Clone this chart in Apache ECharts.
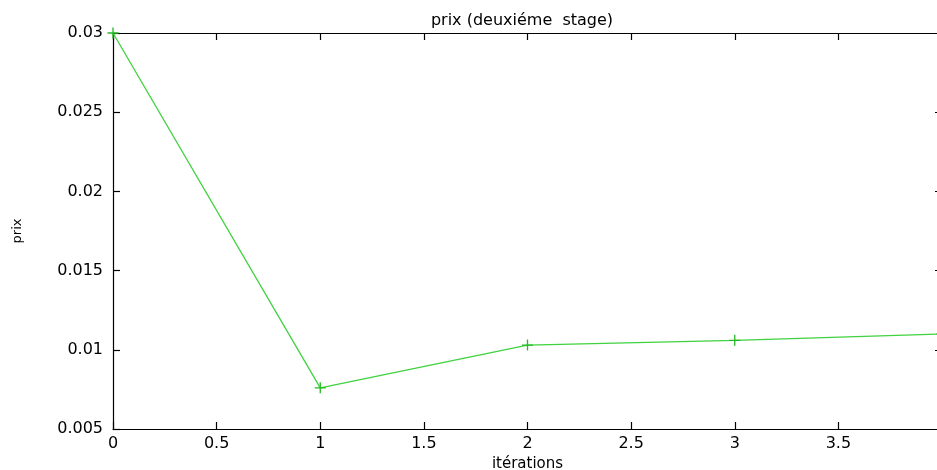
<!DOCTYPE html>
<html>
<head>
<meta charset="utf-8">
<script src="https://cdn.jsdelivr.net/npm/echarts@6/dist/echarts.min.js"></script>
<style>
html,body{margin:0;padding:0;background:#fff;}
#chart{width:937px;height:470px;}
</style>
</head>
<body>
<div id="chart"></div>
<script>
// Data
const iterations = [0, 1, 2, 3, 4];
const prix = [0.0300, 0.0076, 0.0103, 0.0106, 0.0110];
const xTicks = { min: 0, max: 4, interval: 0.5 };
const yTicks = { min: 0.005, max: 0.03, interval: 0.005 };
const titleText = 'prix (deuxiéme  stage)';
const xName = 'itérations';
const yName = 'prix';

const points = iterations.map((x, i) => [x, prix[i]]);
const font = 'DejaVu Sans';
const plusPath = 'path://M4.4,0h1.2v4.4h4.4v1.2h-4.4v4.4h-1.2v-4.4h-4.4v-1.2h4.4z';

function fmt(v) { return String(+v.toFixed(4)); }

const axisCommon = {
  axisLine: { show: true, onZero: false, lineStyle: { color: '#000', width: 1.2 } },
  axisTick: { show: true, inside: true, length: 7, lineStyle: { color: '#000', width: 1.2 } },
  splitLine: { show: false }
};

const chart = echarts.init(document.getElementById('chart'), null, { renderer: 'canvas' });
chart.setOption({
  animation: false,
  backgroundColor: '#ffffff',
  title: {
    text: titleText,
    left: 517, top: 8, textAlign: 'center',
    textStyle: { fontFamily: font, fontSize: 16, fontWeight: 'normal', color: '#000' }
  },
  grid: { left: 113, top: 33, width: 829, height: 396, containLabel: false, outerBoundsMode: 'none' },
  xAxis: [
    Object.assign({
      type: 'value', position: 'bottom',
      min: xTicks.min, max: xTicks.max, interval: xTicks.interval,
      name: xName, nameLocation: 'middle', nameGap: 26,
      nameTextStyle: { fontFamily: font, fontSize: 15, color: '#000' },
      axisLabel: { show: true, margin: 7, fontFamily: font, fontSize: 16, color: '#000', formatter: fmt }
    }, axisCommon),
    Object.assign({
      type: 'value', position: 'top',
      min: xTicks.min, max: xTicks.max, interval: xTicks.interval,
      axisLabel: { show: false }
    }, axisCommon)
  ],
  yAxis: [
    Object.assign({
      type: 'value', position: 'left',
      min: yTicks.min, max: yTicks.max, interval: yTicks.interval,
      name: yName, nameLocation: 'middle', nameGap: 89, nameRotate: 90,
      nameTextStyle: { fontFamily: font, fontSize: 13, color: '#000' },
      axisLabel: { show: true, margin: 10, fontFamily: font, fontSize: 16, color: '#000', formatter: fmt }
    }, axisCommon),
    Object.assign({
      type: 'value', position: 'right',
      min: yTicks.min, max: yTicks.max, interval: yTicks.interval,
      axisLabel: { show: false }
    }, axisCommon)
  ],
  series: [{
    type: 'line',
    data: points,
    xAxisIndex: 0, yAxisIndex: 0,
    symbol: plusPath,
    symbolSize: 11,
    showSymbol: true,
    clip: false,
    lineStyle: { color: '#3fd23f', width: 1.3 },
    itemStyle: { color: '#22bb22' }
  }]
});
</script>
</body>
</html>
